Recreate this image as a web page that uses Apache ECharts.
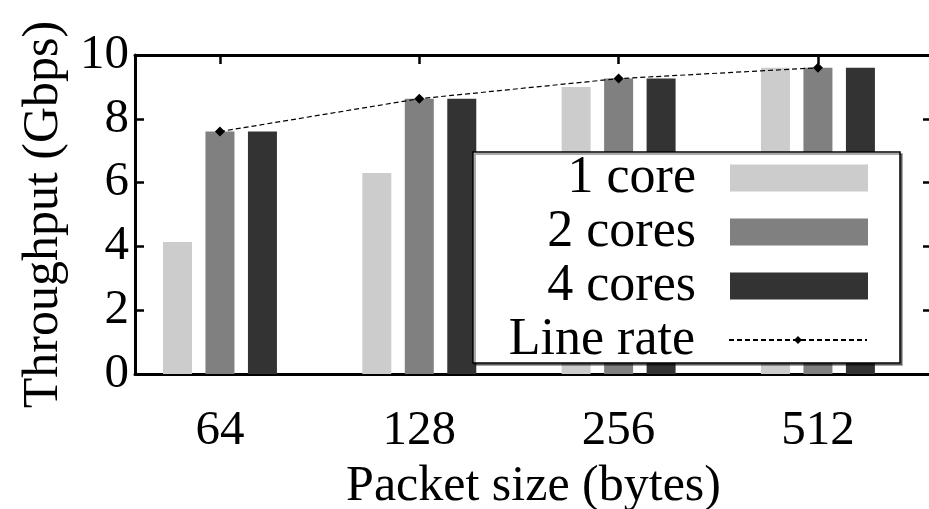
<!DOCTYPE html>
<html><head><meta charset="utf-8">
<script src="https://cdn.jsdelivr.net/npm/echarts@6/dist/echarts.min.js"></script>
<style>html,body{margin:0;padding:0;background:#fff}#c{width:929px;height:509px}</style>
</head><body><div id="c"></div>
<script>
const categories = ['64', '128', '256', '512'];
const oneCore = [4.14, 6.30, 9.00, 9.60];
const twoCores = [7.60, 8.63, 9.26, 9.60];
const fourCores = [7.60, 8.63, 9.26, 9.60];
const lineRate = [7.60, 8.63, 9.26, 9.60];
const yTicks = [0, 2, 4, 6, 8, 10];

const FONT = 'Liberation Serif';
const FS = 49;
const chart = echarts.init(document.getElementById('c'), null, {renderer: 'canvas'});
const legText = {fontFamily: FONT, fontSize: 52, color: '#000', lineHeight: 54, padding: [0, 29, 0, 0]};
const frameLine = {show: true, onZero: false, lineStyle: {color: '#000', width: 3}};
const inTick = {show: true, inside: true, length: 9, lineStyle: {color: '#000', width: 2.5}};
chart.setOption({
  animation: false,
  backgroundColor: '#fff',
  grid: [
    {left: 120.3, right: 11.4, top: 55, bottom: 135},
    {left: 135, right: -3, top: 55, bottom: 135, containLabel: false, outerBoundsMode: 'none'},
    {left: 220, right: 111.2, top: 55, bottom: 135, containLabel: false, outerBoundsMode: 'none'}
  ],
  xAxis: [
    {type: 'category', data: categories, gridIndex: 0, position: 'bottom',
     axisLine: {show: false}, axisTick: {show: false},
     axisLabel: {fontFamily: FONT, fontSize: FS, color: '#000', margin: 33}},
    {type: 'value', gridIndex: 1, min: 0, max: 1, position: 'bottom',
     name: 'Packet size (bytes)', nameLocation: 'middle', nameGap: 88,
     nameTextStyle: {fontFamily: FONT, fontSize: 50, color: '#000'},
     axisLine: frameLine, axisTick: {show: false},
     axisLabel: {show: false}, splitLine: {show: false}},
    {type: 'value', gridIndex: 1, min: 0, max: 1, position: 'top',
     axisLine: frameLine, axisTick: {show: false},
     axisLabel: {show: false}, splitLine: {show: false}},
    {type: 'value', gridIndex: 2, min: 0, max: categories.length - 1, interval: 1, position: 'top',
     axisLine: frameLine, axisTick: inTick,
     axisLabel: {show: false}, splitLine: {show: false}}
  ],
  yAxis: [
    {type: 'value', gridIndex: 0, min: 0, max: 10, show: false},
    {type: 'value', gridIndex: 1, min: 0, max: 10, interval: 2, position: 'left',
     name: 'Throughput (Gbps)', nameLocation: 'middle', nameGap: 66,
     nameTextStyle: {fontFamily: FONT, fontSize: 50, color: '#000'},
     axisLine: frameLine, axisTick: inTick,
     axisLabel: {fontFamily: FONT, fontSize: FS, color: '#000', margin: 6,
       formatter: v => yTicks.includes(v) ? String(v) : ''},
     splitLine: {show: false}},
    {type: 'value', gridIndex: 1, min: 0, max: 10, interval: 2, position: 'right',
     axisLine: frameLine, axisTick: inTick,
     axisLabel: {show: false}, splitLine: {show: false}},
    {type: 'value', gridIndex: 2, min: 0, max: 10, show: false}
  ],
  legend: [
    {data: ['1 core', '2 cores', '4 cores'], orient: 'vertical', align: 'right',
     right: 61, top: 151, padding: 0, itemGap: 0, itemWidth: 138, itemHeight: 27,
     selectedMode: false, z: 20, textStyle: legText, icon: 'rect'},
    {data: ['Line rate'], orient: 'vertical', align: 'right',
     right: 61, top: 313, padding: 0, itemGap: 0, itemWidth: 138, itemHeight: 10,
     selectedMode: false, z: 20, textStyle: legText}
  ],
  graphic: [
    {type: 'rect', z: 15, shape: {x: 473, y: 152, width: 427, height: 211},
     style: {fill: '#fff', stroke: '#000', lineWidth: 1.5, shadowColor: 'rgba(0,0,0,0.45)', shadowOffsetX: 2, shadowOffsetY: 2, shadowBlur: 0}}
  ],
  series: [
    {name: '1 core', type: 'bar', xAxisIndex: 0, yAxisIndex: 0, data: oneCore,
     barWidth: 29, barGap: '46.5%', itemStyle: {color: '#cccccc'}},
    {name: '2 cores', type: 'bar', xAxisIndex: 0, yAxisIndex: 0, data: twoCores,
     barWidth: 29, barGap: '46.5%', itemStyle: {color: '#808080'}},
    {name: '4 cores', type: 'bar', xAxisIndex: 0, yAxisIndex: 0, data: fourCores,
     barWidth: 29, barGap: '46.5%', itemStyle: {color: '#333333'}},
    {name: 'Line rate', type: 'line', xAxisIndex: 0, yAxisIndex: 0, data: lineRate, z: 10,
     symbol: 'diamond', symbolSize: 10, itemStyle: {color: '#000'},
     lineStyle: {color: '#000', width: 1.2, type: [5, 3]}}
  ]
});
</script></body></html>
